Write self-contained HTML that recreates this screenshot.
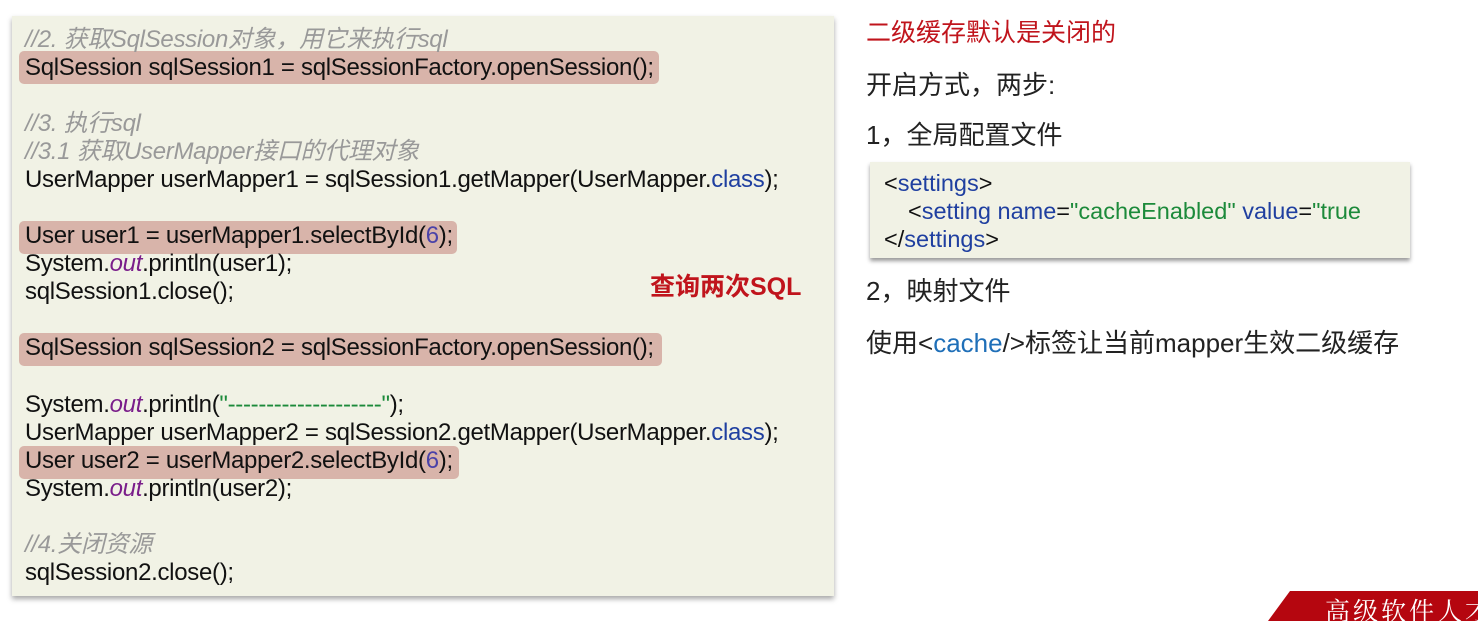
<!DOCTYPE html>
<html><head><meta charset="utf-8"><style>
body{margin:0;width:1478px;height:614px;background:#fff;position:relative;overflow:hidden;font-family:"Liberation Sans","Noto Sans CJK SC",sans-serif;}
.panel{position:absolute;left:12px;top:16px;width:822px;height:580px;background:#f1f2e5;box-shadow:0 3px 5px rgba(0,0,0,0.35);}
.l{position:absolute;left:25px;font-size:24px;letter-spacing:-0.3px;color:#111;white-space:pre;line-height:28px;}
.c{color:#999;font-style:italic;}
.hl{position:absolute;left:19px;background:#d8b4aa;border-radius:5px;height:33px;}
.kw{color:#1f3fa0}.num{color:#4a42a8}.out{color:#7a1e8a;font-style:italic}.str{color:#1c8a3a}
.r{position:absolute;left:866px;font-size:26px;color:#222;white-space:pre;}
.box{position:absolute;left:870px;top:162px;width:540px;height:96px;background:#f1f2e5;box-shadow:0 3px 4px rgba(0,0,0,0.4);}
.x{position:absolute;font-size:23.5px;white-space:pre;color:#111;line-height:28px}
</style></head><body>
<div class="panel"></div>
<div class="hl" style="top:51px;width:640px"></div>
<div class="hl" style="top:221px;width:438px"></div>
<div class="hl" style="top:333px;width:643px"></div>
<div class="hl" style="top:446px;width:440px"></div>
<div class="l c" style="top:26px">//2. 获取SqlSession对象，用它来执行sql</div>
<div class="l" style="top:54px">SqlSession sqlSession1 = sqlSessionFactory.openSession();</div>
<div class="l c" style="top:110px">//3. 执行sql</div>
<div class="l c" style="top:138px">//3.1 获取UserMapper接口的代理对象</div>
<div class="l" style="top:166px">UserMapper userMapper1 = sqlSession1.getMapper(UserMapper.<span class="kw">class</span>);</div>
<div class="l" style="top:222px">User user1 = userMapper1.selectById(<span class="num">6</span>);</div>
<div class="l" style="top:250px">System.<span class="out">out</span>.println(user1);</div>
<div class="l" style="top:278px">sqlSession1.close();</div>
<div class="l" style="top:334px">SqlSession sqlSession2 = sqlSessionFactory.openSession();</div>
<div class="l" style="top:391px">System.<span class="out">out</span>.println(<span class="str">"--------------------"</span>);</div>
<div class="l" style="top:419px">UserMapper userMapper2 = sqlSession2.getMapper(UserMapper.<span class="kw">class</span>);</div>
<div class="l" style="top:447px">User user2 = userMapper2.selectById(<span class="num">6</span>);</div>
<div class="l" style="top:475px">System.<span class="out">out</span>.println(user2);</div>
<div class="l c" style="top:531px">//4.关闭资源</div>
<div class="l" style="top:559px">sqlSession2.close();</div>
<div style="position:absolute;left:650px;top:267px;font-size:25px;font-weight:bold;color:#c0141c;">查询两次SQL</div>
<div class="r" style="top:13px;color:#c0141c;font-size:25px">二级缓存默认是关闭的</div>
<div class="r" style="top:65px">开启方式，两步:</div>
<div class="r" style="top:115px">1，全局配置文件</div>
<div class="box"></div>
<div class="x" style="left:884px;top:169px">&lt;<span class="kw">settings</span>&gt;</div>
<div class="x" style="left:908px;top:197px">&lt;<span class="kw">setting name</span>=<span class="str">"cacheEnabled"</span> <span class="kw">value</span>=<span class="str">"true</span></div>
<div class="x" style="left:884px;top:225px">&lt;/<span class="kw">settings</span>&gt;</div>
<div class="r" style="top:271px">2，映射文件</div>
<div class="r" style="top:323px">使用&lt;<span style="color:#1f6fb8">cache</span>/&gt;标签让当前mapper生效二级缓存</div>
<div style="position:absolute;left:1268px;top:591px;width:220px;height:30px;background:#b5060f;clip-path:polygon(22px 0,100% 0,100% 100%,0 100%);"></div>
<div style="position:absolute;left:1325px;top:592px;color:#fff;font-size:25px;font-family:'Noto Serif CJK SC',serif;white-space:nowrap;letter-spacing:3px">高级软件人才</div>
</body></html>
